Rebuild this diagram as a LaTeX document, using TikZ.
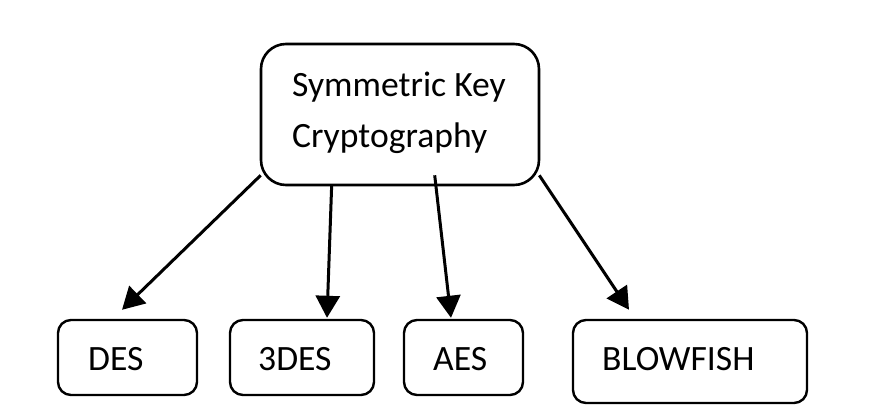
\documentclass[tikz,border=0pt]{standalone}
\usepackage{fontspec}
\setmainfont{Carlito}
\usetikzlibrary{arrows.meta,calc}
\tikzset{
  bigbox/.style={draw=black,line width=2.6pt,rounded corners=25pt,minimum width=278pt,minimum height=141pt,inner sep=0pt},
  smallbox/.style={draw=black,line width=2.4pt,rounded corners=13pt,minimum height=75pt,inner sep=0pt},
  lbl/.style={anchor=base west,inner sep=0pt,font=\fontsize{35.6pt}{42pt}\selectfont},
  conn/.style={line width=3pt,-{Triangle[width=24pt,length=22pt]}}
}
\begin{document}
\begin{tikzpicture}[x=1pt,y=-1pt]
\useasboundingbox (0,0) rectangle (895,412);
\node[bigbox] (top) at (400,114.5) {};
\node[lbl] (t1) at (292,97) {Symmetric Key};
\node[lbl] (t2) at (292,147) {Cryptography};
\node[smallbox,minimum width=139pt] (des) at (127.5,357.5) {};
\node[smallbox,minimum width=144pt] (tdes) at (302,357.5) {};
\node[smallbox,minimum width=119pt] (aes) at (463.5,357.5) {};
\node[smallbox,minimum width=234pt,minimum height=83pt] (bf) at (690,361.5) {};
\node[lbl] (l1) at (88,370) {DES};
\node[lbl] (l2) at (258,370) {3DES};
\node[lbl] (l3) at (433,370) {AES};
\node[lbl] (l4) at (602,370) {BLOWFISH};
\draw[conn] ($(top.south west)+(1,-11)$) -- ($(des.north)+(-5.5,-9)$);
\draw[conn] ($(top.south west)+(72,-2)$) -- ($(tdes.north)+(25,-1)$);
\draw[conn] ($(top.south west)+(175,-11)$) -- ($(aes.north)+(-12.5,-1)$);
\draw[conn] ($(top.south east)+(-1,-11)$) -- ($(bf.north)+(-61,-9)$);
\end{tikzpicture}
\end{document}
